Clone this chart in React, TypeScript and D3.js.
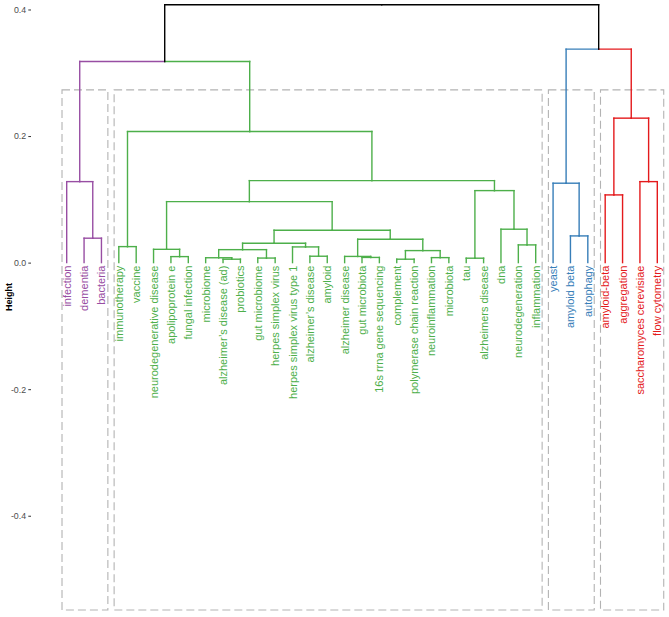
import React, { useEffect, useRef } from 'react';
import * as d3 from 'd3';

// leaves in dendrogram order
const leaves = [
  'infection', 'dementia', 'bacteria',
  'immunotherapy', 'vaccine', 'neurodegenerative disease', 'apolipoprotein e',
  'fungal infection', 'microbiome', 'alzheimer’s disease (ad)', 'probiotics',
  'gut microbiome', 'herpes simplex virus', 'herpes simplex virus type 1',
  'alzheimer’s disease', 'amyloid', 'alzheimer disease', 'gut microbiota',
  '16s rrna gene sequencing', 'complement', 'polymerase chain reaction',
  'neuroinflammation', 'microbiota', 'tau', 'alzheimers disease', 'dna',
  'neurodegeneration', 'inflammation',
  'yeast', 'amyloid beta', 'autophagy',
  'amyloid-beta', 'aggregation', 'saccharomyces cerevisiae', 'flow cytometry',
];

const clusterSizes = [3, 25, 3, 4];
const clusterColors = ['#984EA3', '#4DAF4A', '#377EB8', '#E41A1C'];

// [node id, left child, right child, height]
const merges: [string, string, string, number][] = [
  ['db', 'dementia', 'bacteria', 0.0386],
  ['purple', 'infection', 'db', 0.128],
  ['iv', 'immunotherapy', 'vaccine', 0.0253],
  ['af', 'apolipoprotein e', 'fungal infection', 0.0095],
  ['naf', 'neurodegenerative disease', 'af', 0.021],
  ['adp', 'alzheimer’s disease (ad)', 'probiotics', 0.0054],
  ['madp', 'microbiome', 'adp', 0.0077],
  ['gh', 'gut microbiome', 'herpes simplex virus', 0.0072],
  ['mg', 'madp', 'gh', 0.0205],
  ['aa', 'alzheimer’s disease', 'amyloid', 0.0101],
  ['haa', 'herpes simplex virus type 1', 'aa', 0.0248],
  ['g1', 'mg', 'haa', 0.0307],
  ['gs', 'gut microbiota', '16s rrna gene sequencing', 0.0082],
  ['ags', 'alzheimer disease', 'gs', 0.0098],
  ['cp', 'complement', 'polymerase chain reaction', 0.0054],
  ['nm', 'neuroinflammation', 'microbiota', 0.0079],
  ['cpnm', 'cp', 'nm', 0.019],
  ['g2', 'ags', 'cpnm', 0.037],
  ['g12', 'g1', 'g2', 0.0512],
  ['nag', 'naf', 'g12', 0.0964],
  ['ta', 'tau', 'alzheimers disease', 0.007],
  ['ni', 'neurodegeneration', 'inflammation', 0.028],
  ['dni', 'dna', 'ni', 0.0528],
  ['tadni', 'ta', 'dni', 0.1138],
  ['big', 'nag', 'tadni', 0.1296],
  ['green', 'iv', 'big', 0.2071],
  ['left', 'purple', 'green', 0.3178],
  ['ab', 'amyloid beta', 'autophagy', 0.0422],
  ['blue', 'yeast', 'ab', 0.1255],
  ['aa2', 'amyloid-beta', 'aggregation', 0.107],
  ['sf', 'saccharomyces cerevisiae', 'flow cytometry', 0.128],
  ['red', 'aa2', 'sf', 0.2283],
  ['right', 'blue', 'red', 0.3374],
  ['root', 'left', 'right', 0.4074],
];

const yTicks = [-0.4, -0.2, 0.0, 0.2, 0.4];

// rectangle extent around clusters (in height units)
const rectTop = 0.273;
const rectBottom = -0.549;

const width = 669;
const height = 617;

export default function App() {
  const ref = useRef<SVGSVGElement>(null);

  useEffect(() => {
    const svg = d3.select(ref.current);
    svg.selectAll('*').remove();

    const x = d3.scaleLinear().domain([0, leaves.length - 1]).range([66.7, 657.3]);
    const y = d3.scaleLinear().domain([-0.56, 0.415]).range([height, 0]);

    // cluster of each leaf
    const leafCluster: number[] = [];
    clusterSizes.forEach((s, ci) => { for (let i = 0; i < s; i++) leafCluster.push(ci); });

    type N = { x: number; h: number; clusters: Set<number>; children?: string[] };
    const nodes: Record<string, N> = {};
    leaves.forEach((l, i) => { nodes[l] = { x: i, h: 0, clusters: new Set([leafCluster[i]]) }; });
    merges.forEach(([id, a, b, h]) => {
      const na = nodes[a], nb = nodes[b];
      nodes[id] = {
        x: (na.x + nb.x) / 2,
        h,
        clusters: new Set([...na.clusters, ...nb.clusters]),
        children: [a, b],
      };
    });

    const colorOf = (n: N) => n.clusters.size === 1 ? clusterColors[[...n.clusters][0]] : '#000000';

    // dashed cluster rectangles
    let start = 0;
    const rects = clusterSizes.map(s => {
      const r = { x0: x(start - 0.27), x1: x(start + s - 1 + 0.37) };
      start += s;
      return r;
    });
    svg.append('g').selectAll('rect')
      .data(rects)
      .enter().append('rect')
      .attr('x', d => d.x0)
      .attr('y', y(rectTop))
      .attr('width', d => d.x1 - d.x0)
      .attr('height', y(rectBottom) - y(rectTop))
      .attr('fill', 'none')
      .attr('stroke', '#B3B3B3')
      .attr('stroke-width', 1.1)
      .attr('stroke-dasharray', '8,4');

    // branches
    const segs: { x1: number; y1: number; x2: number; y2: number; c: string }[] = [];
    merges.forEach(([id]) => {
      const p = nodes[id];
      p.children!.forEach(cid => {
        const c = nodes[cid];
        const col = colorOf(c);
        segs.push({ x1: x(p.x), y1: y(p.h), x2: x(c.x), y2: y(p.h), c: col });
        segs.push({ x1: x(c.x), y1: y(p.h), x2: x(c.x), y2: y(c.h), c: col });
      });
    });
    svg.append('g').selectAll('line')
      .data(segs)
      .enter().append('line')
      .attr('x1', d => d.x1).attr('y1', d => d.y1)
      .attr('x2', d => d.x2).attr('y2', d => d.y2)
      .attr('stroke', d => d.c)
      .attr('stroke-width', 1.4)
      .attr('stroke-linecap', 'square');

    // leaf labels
    svg.append('g').selectAll('text')
      .data(leaves)
      .enter().append('text')
      .attr('transform', (d, i) => `translate(${x(i)},${y(0) + 3}) rotate(-90)`)
      .attr('text-anchor', 'end')
      .attr('dominant-baseline', 'central')
      .attr('fill', (d, i) => clusterColors[leafCluster[i]])
      .style('font-family', '"Liberation Sans", Arial, sans-serif')
      .style('font-size', '11px')
      .text(d => d);

    // y axis
    const axis = svg.append('g')
      .attr('transform', 'translate(31,0)')
      .call(d3.axisLeft(y).tickValues(yTicks).tickSize(2.7).tickPadding(2.2)
        .tickFormat(d => (d as number).toFixed(1)));
    axis.select('.domain').remove();
    axis.selectAll('.tick line').attr('stroke', '#333333').attr('stroke-width', 1);
    axis.selectAll('.tick text')
      .attr('fill', '#4D4D4D')
      .style('font-family', '"Liberation Sans", Arial, sans-serif')
      .style('font-size', '8.8px');

    svg.append('text')
      .attr('transform', 'translate(9,297) rotate(-90)')
      .attr('text-anchor', 'middle')
      .attr('dominant-baseline', 'central')
      .style('font-family', '"Liberation Sans", Arial, sans-serif')
      .style('font-size', '9px')
      .style('font-weight', 'bold')
      .text('Height');
  }, []);

  return (
    <svg ref={ref} width={width} height={height}
      style={{ position: 'absolute', left: 0, top: 0, background: '#ffffff' }} />
  );
}
